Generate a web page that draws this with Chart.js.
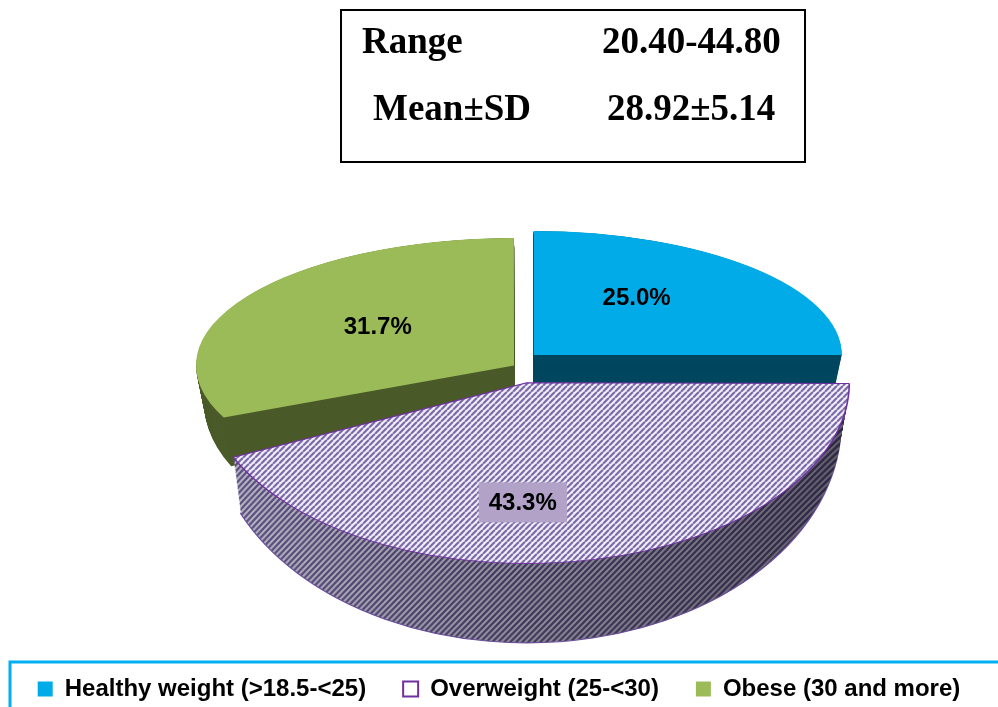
<!DOCTYPE html>
<html>
<head>
<meta charset="utf-8">
<script src="https://cdn.jsdelivr.net/npm/chart.js@4.4.1/dist/chart.umd.min.js"></script>
<style>
  html, body { margin: 0; padding: 0; background: #fff; }
  #wrap { position: relative; width: 998px; height: 707px; overflow: hidden; }
  #chart { position: absolute; left: 0; top: 0; }
  .stats {
    position: absolute; left: 340px; top: 9px; width: 462px; height: 150px;
    border: 2px solid #000;
    font-family: 'Liberation Serif', 'Times New Roman', serif;
    font-weight: bold; font-size: 37px; color: #000;
  }
  .stats span { position: absolute; line-height: 1; white-space: nowrap; }
</style>
</head>
<body>
<div id="wrap">
  <canvas id="chart" width="998" height="707"></canvas>
  <div class="stats">
    <span id="s0" style="left:20px;top:11px"></span>
    <span id="v0" style="left:260px;top:11px"></span>
    <span id="s1" style="left:31px;top:78px"></span>
    <span id="v1" style="left:265px;top:78px"></span>
  </div>
</div>
<script>
// données du graphique
const categories = ['Healthy weight (>18.5-<25)', 'Overweight (25-<30)', 'Obese (30 and more)'];
const percentages = [25.0, 43.3, 31.7];
const statLabels = ['Range', 'Mean±SD'];
const statValues = ['20.40-44.80', '28.92±5.14'];

statLabels.forEach((s, i) => {
    document.getElementById('s' + i).textContent = s;
    document.getElementById('v' + i).textContent = statValues[i];
});

// motif hachuré pour le dessus de la tranche "Overweight"
function stripePattern(bg, fg, size, lw) {
    const c = document.createElement('canvas');
    c.width = size; c.height = size;
    const g = c.getContext('2d');
    g.fillStyle = bg;
    g.fillRect(0, 0, size, size);
    g.strokeStyle = fg;
    g.lineWidth = lw;
    g.beginPath();
    for (let k = -1; k <= 1; k++) {
        g.moveTo(k * size, size);
        g.lineTo(size + k * size, 0);
    }
    g.stroke();
    return g.createPattern(c, 'repeat');
}

// hachures du flanc, ombrées de gauche (clair) à droite (sombre)
function shadedStripes(w, h, size, lw) {
    const c = document.createElement('canvas');
    c.width = w; c.height = h;
    const g = c.getContext('2d');
    const bg = g.createLinearGradient(200, 0, 850, 0);
    bg.addColorStop(0, '#c3c0cd');
    bg.addColorStop(0.5, '#96929f');
    bg.addColorStop(1, '#66626f');
    g.fillStyle = bg;
    g.fillRect(0, 0, w, h);
    const fg = g.createLinearGradient(200, 0, 850, 0);
    fg.addColorStop(0, '#5e5484');
    fg.addColorStop(0.5, '#40385b');
    fg.addColorStop(1, '#2c2741');
    g.strokeStyle = fg;
    g.lineWidth = lw;
    g.beginPath();
    for (let k = 0; k * size < w + h + size; k++) {
        g.moveTo(k * size, 0);
        g.lineTo(k * size - h, h);
    }
    g.stroke();
    return g.createPattern(c, 'no-repeat');
}

const ctx0 = document.getElementById('chart').getContext('2d');
const topStripes = stripePattern('#f6f3fb', '#7565a6', 6, 2.2);
const sideStripes = shadedStripes(998, 707, 6, 2.4);

const topColors = ['#00abe8', topStripes, '#9bbb59'];
const sideColors = ['#00465f', sideStripes, '#4a5a29'];
const drawOrder = [0, 2, 1];

// vue "3D" : une ellipse par tranche (l'arrière est plus écrasé) + épaisseur
// ordre : healthy, overweight, obese
const VIEW = {
    cx: 524,
    cy: [359, 375, 368],
    rx: [308, 314, 317],
    ry: [124, 176, 127],
    depth: 38, shrink: 0.025, grow: 0.22, steps: 38
};
// placement des étiquettes (fraction du rayon, rotation en radians)
const labelRadius = [0.57, 0.68, 0.53];
const labelTurn = [-0.16, 0.23, 0.05];

function applyView(ctx, arc, i, t) {
    const sx = VIEW.rx[i] / arc.outerRadius * (1 - VIEW.shrink * t);
    const sy = VIEW.ry[i] / arc.outerRadius * (1 + VIEW.grow * t);
    ctx.translate(VIEW.cx, VIEW.cy[i] + VIEW.depth * t);
    ctx.scale(sx, sy);
    ctx.translate(-arc.x, -arc.y);
}

function paintArc(ctx, arc, fill, stroke, width) {
    if (fill instanceof CanvasPattern) {
        fill.setTransform(ctx.getTransform().inverse());
    }
    const saved = arc.options;
    arc.options = Object.assign({}, saved, { backgroundColor: fill, borderColor: stroke, borderWidth: width });
    arc.draw(ctx);
    arc.options = saved;
}

const pie3d = {
    id: 'pie3d',
    beforeDatasetsDraw(chart) {
        const ctx = chart.ctx;
        const arcs = chart.getDatasetMeta(0).data;
        drawOrder.forEach(i => {
            const arc = arcs[i];
            for (let s = VIEW.steps; s >= 1; s--) {
                ctx.save();
                applyView(ctx, arc, i, s / VIEW.steps);
                const edge = (i === 1 && s === VIEW.steps) ? 1 : 0;
                paintArc(ctx, arc, sideColors[i], '#6a4f9a', edge);
                ctx.restore();
            }
            ctx.save();
            applyView(ctx, arc, i, 0);
            paintArc(ctx, arc, topColors[i], '#7030a0', i === 1 ? 1 : 0);
            ctx.restore();
        });
        return false;
    },
    afterDraw(chart) {
        const ctx = chart.ctx;
        const arcs = chart.getDatasetMeta(0).data;

        // étiquettes des tranches
        ctx.save();
        ctx.font = 'bold 24px "Liberation Sans", Arial, sans-serif';
        ctx.textAlign = 'center';
        ctx.textBaseline = 'middle';
        arcs.forEach((arc, i) => {
            ctx.save();
            applyView(ctx, arc, i, 0);
            const m = ctx.getTransform();
            ctx.restore();
            const mid = (arc.startAngle + arc.endAngle) / 2;
            const off = (arc.options.offset || 0) / 4;
            const a = mid + labelTurn[i];
            const r = arc.outerRadius * labelRadius[i];
            const p = m.transformPoint(new DOMPoint(
                arc.x + Math.cos(mid) * off + Math.cos(a) * r,
                arc.y + Math.sin(mid) * off + Math.sin(a) * r));
            const txt = percentages[i].toFixed(1) + '%';
            if (i === 1) {
                const w = ctx.measureText(txt).width;
                ctx.fillStyle = '#b3a2c7';
                ctx.fillRect(p.x - w / 2 - 10, p.y - 20, w + 20, 40);
            }
            ctx.fillStyle = '#000';
            ctx.fillText(txt, p.x, p.y + 1);
        });
        ctx.restore();

        // cadre de la légende
        ctx.save();
        ctx.strokeStyle = '#00b0f0';
        ctx.lineWidth = 3;
        ctx.strokeRect(10, 662, 1000, 60);
        ctx.restore();
    }
};

const legendFill = ['#00abe8', '#ffffff', '#9bbb59'];
const legendStroke = ['#00abe8', '#7030a0', '#9bbb59'];
const legendLine = [0, 2, 0];

new Chart(ctx0, {
    type: 'pie',
    data: {
        labels: categories,
        datasets: [{
            data: percentages,
            backgroundColor: topColors,
            borderWidth: 0,
            offset: [36, 36, 30],
            radius: 200
        }]
    },
    options: {
        responsive: false,
        animation: false,
        events: [],
        layout: { padding: { bottom: -4 } },
        plugins: {
            tooltip: { enabled: false },
            legend: {
                position: 'bottom',
                labels: {
                    boxWidth: 15,
                    boxHeight: 15,
                    padding: 37,
                    color: '#000',
                    font: { family: '"Liberation Sans", Arial, sans-serif', size: 24, weight: 'bold' },
                    generateLabels: () => categories.map((text, i) => ({
                        text: text,
                        fillStyle: legendFill[i],
                        strokeStyle: legendStroke[i],
                        lineWidth: legendLine[i],
                        hidden: false,
                        index: i
                    }))
                }
            }
        }
    },
    plugins: [pie3d]
});
</script>
</body>
</html>
